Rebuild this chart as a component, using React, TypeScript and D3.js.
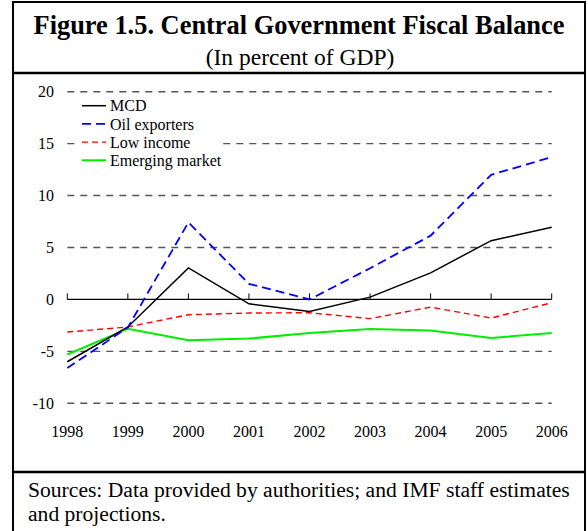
import React from "react";
import * as d3 from "d3";

const years = ["1998", "1999", "2000", "2001", "2002", "2003", "2004", "2005", "2006"];
const mcd = [-6.0, -2.65, 3.04, -0.42, -1.15, 0.22, 2.56, 5.66, 6.94];
const oilExporters = [-6.6, -2.7, 7.42, 1.5, 0.0, 3.0, 6.14, 12.0, 13.7];
const lowIncome = [-3.14, -2.65, -1.47, -1.31, -1.28, -1.85, -0.74, -1.79, -0.32];
const emergingMarket = [-5.3, -2.82, -3.93, -3.77, -3.23, -2.85, -2.98, -3.71, -3.23];
const yTicks = [20, 15, 10, 5, 0, -5, -10];
const seriesNames = ["MCD", "Oil exporters", "Low income", "Emerging market"];

const FONT = "'Liberation Serif', 'Times New Roman', serif";

export default function App() {
  const x = d3.scalePoint<string>().domain(years).range([67.3, 551.7]);
  const y = d3.scaleLinear().domain([-10, 20]).range([403.3, 91.7]);

  const line = d3
    .line<number>()
    .x((_, i) => x(years[i]) as number)
    .y((d) => y(d));

  const series = [
    { name: seriesNames[2], data: lowIncome, color: "#ff0000", width: 1.4, dash: "6,4" },
    { name: seriesNames[3], data: emergingMarket, color: "#00ee00", width: 2, dash: "" },
    { name: seriesNames[0], data: mcd, color: "#000000", width: 1.5, dash: "" },
    { name: seriesNames[1], data: oilExporters, color: "#0000ff", width: 1.8, dash: "9,5" },
  ];
  const legendOrder = [2, 3, 0, 1];

  return (
    <svg
      width={588}
      height={531}
      style={{ position: "absolute", left: 0, top: 0, background: "#fff" }}
      fontFamily={FONT}
    >
      <rect x={0} y={0} width={588} height={531} fill="#fff" />
      {/* outer frame */}
      <rect x={13} y={2} width={572} height={540} fill="none" stroke="#000" strokeWidth={2} />
      <line x1={13} x2={585} y1={73} y2={73} stroke="#000" strokeWidth={2.5} />
      <line x1={13} x2={585} y1={472} y2={472} stroke="#000" strokeWidth={2.5} />

      {/* title */}
      <text x={299} y={34} textAnchor="middle" fontWeight="bold" fontSize={26.4}>
        Figure 1.5. Central Government Fiscal Balance
      </text>
      <text x={300} y={65} textAnchor="middle" fontSize={23.5}>
        (In percent of GDP)
      </text>

      {/* gridlines */}
      {yTicks
        .filter((t) => t !== 0)
        .map((t) => (
          <line
            key={t}
            x1={x(years[0])}
            x2={x(years[years.length - 1])}
            y1={y(t)}
            y2={y(t)}
            stroke="#555"
            strokeWidth={1.4}
            strokeDasharray="7,6"
          />
        ))}
      {/* y tick labels */}
      {yTicks.map((t) => (
        <text key={"l" + t} x={54} y={y(t)} dy="0.35em" textAnchor="end" fontSize={16}>
          {t}
        </text>
      ))}

      {/* zero axis */}
      <line
        x1={x(years[0])}
        x2={x(years[years.length - 1])}
        y1={y(0)}
        y2={y(0)}
        stroke="#000"
        strokeWidth={1.3}
      />
      {years.map((yr) => (
        <line key={"t" + yr} x1={x(yr)} x2={x(yr)} y1={y(0)} y2={y(0) - 6} stroke="#000" strokeWidth={1} />
      ))}
      {years.map((yr) => (
        <text key={"x" + yr} x={x(yr)} y={437} textAnchor="middle" fontSize={16}>
          {yr}
        </text>
      ))}

      {/* legend background */}
      <rect x={76} y={97} width={146} height={72} fill="#fff" />
      {legendOrder.map((si, i) => {
        const s = series[si];
        const ly = 105.7 + i * 18.2;
        return (
          <g key={"lg" + i}>
            <line
              x1={82}
              x2={106}
              y1={ly}
              y2={ly}
              stroke={s.color}
              strokeWidth={s.width}
              strokeDasharray={s.dash || undefined}
            />
            <text x={110} y={ly} dy="0.35em" fontSize={16}>
              {s.name}
            </text>
          </g>
        );
      })}

      {/* series */}
      {series.map((s) => (
        <path
          key={s.name}
          d={line(s.data) || ""}
          fill="none"
          stroke={s.color}
          strokeWidth={s.width}
          strokeDasharray={s.dash || undefined}
          strokeLinejoin="miter"
        />
      ))}

      {/* footer */}
      <text x={28} y={497} fontSize={21.6}>
        Sources: Data provided by authorities; and IMF staff estimates
      </text>
      <text x={28} y={521} fontSize={21.6}>
        and projections.
      </text>
    </svg>
  );
}
